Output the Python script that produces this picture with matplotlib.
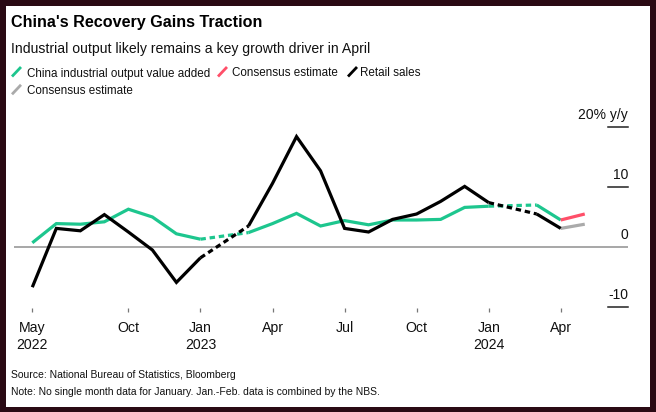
import matplotlib
matplotlib.use("Agg")
import matplotlib.pyplot as plt
from matplotlib.patches import Rectangle
from matplotlib.lines import Line2D
import matplotlib.transforms as mtransforms
import numpy as np

# ---------------- data ----------------
months = ["May 2022", "Jun 2022", "Jul 2022", "Aug 2022", "Sep 2022", "Oct 2022",
          "Nov 2022", "Dec 2022", "Jan 2023", "Feb 2023", "Mar 2023", "Apr 2023",
          "May 2023", "Jun 2023", "Jul 2023", "Aug 2023", "Sep 2023", "Oct 2023",
          "Nov 2023", "Dec 2023", "Jan 2024", "Feb 2024", "Mar 2024", "Apr 2024"]
industrial = [0.7, 3.9, 3.8, 4.2, 6.3, 5.0, 2.2, 1.3, None, 2.4, 3.9, 5.6,
              3.5, 4.4, 3.7, 4.5, 4.5, 4.6, 6.6, 6.8, None, 7.0, 4.5, None]
industrial_consensus = 5.5
retail = [-6.7, 3.1, 2.7, 5.4, 2.5, -0.5, -5.9, -1.8, None, 3.5, 10.6, 18.4,
          12.7, 3.1, 2.5, 4.6, 5.5, 7.6, 10.1, 7.4, None, 5.5, 3.1, None]
retail_consensus = 3.8

tick_positions = [0, 4, 7, 10, 13, 16, 19, 22]
tick_labels = ["May\n2022", "Oct", "Jan\n2023", "Apr", "Jul", "Oct", "Jan\n2024", "Apr"]
y_ticks = [-10, 0, 10, 20]
y_tick_labels = ["-10", "0", "10", "20% y/y"]

title = "China's Recovery Gains Traction"
subtitle = "Industrial output likely remains a key growth driver in April"
legend_labels = ["China industrial output value added", "Consensus estimate",
                 "Retail sales", "Consensus estimate"]
source = "Source: National Bureau of Statistics, Bloomberg"
note = "Note: No single month data for January. Jan.-Feb. data is combined by the NBS."

# ---------------- style ----------------
GREEN = "#1dc68e"
RED = "#ff4f69"
BLACK = "#000000"
GRAY = "#aaaaaa"
BORDER = "#2a0a14"

plt.rcParams["font.family"] = ["Liberation Sans", "DejaVu Sans"]

W, H = 656, 412
DPI = 100
fig = plt.figure(figsize=(W / DPI, H / DPI), dpi=DPI, facecolor=BORDER)

def fx(px):
    return px / W

def fy(py):
    return 1 - py / H

# white panel
fig.patches.append(Rectangle((fx(6), fy(407)), fx(650) - fx(6), fy(6) - fy(407),
                             transform=fig.transFigure, facecolor="white",
                             edgecolor="none", zorder=-10))

# axes geometry (pixels)
ax_left, ax_right = 14, 628
ax_top, ax_bottom = 115, 308
ax = fig.add_axes([fx(ax_left), fy(ax_bottom), fx(ax_right) - fx(ax_left),
                   fy(ax_top) - fy(ax_bottom)])
ax.set_facecolor("none")
ax.set_zorder(1)

px_per_idx = 24.02
x0_px = 32.3
ax.set_xlim((ax_left - x0_px) / px_per_idx, (ax_right - x0_px) / px_per_idx)
zero_px, px_per_unit = 247, 6.0
ax.set_ylim((zero_px - ax_bottom) / px_per_unit, (zero_px - ax_top) / px_per_unit)

for s in ax.spines.values():
    s.set_visible(False)

x = np.arange(len(months))
ind = np.array([np.nan if v is None else v for v in industrial], dtype=float)
ret = np.array([np.nan if v is None else v for v in retail], dtype=float)

LW = 2.3
DASH = (0, (1.7, 1.2))

def draw_series(vals, color, z):
    ax.plot(x, vals, color=color, lw=LW, solid_joinstyle="miter",
            solid_capstyle="butt", zorder=z)
    idx = np.where(np.isnan(vals[:-1]))[0]
    for i in idx:
        if 0 < i and not np.isnan(vals[i - 1]) and not np.isnan(vals[i + 1]):
            ax.plot([x[i - 1], x[i + 1]], [vals[i - 1], vals[i + 1]], color=color,
                    lw=LW, linestyle=DASH, dash_capstyle="butt", zorder=z)

ax.axhline(0, color="#8f8f8f", lw=1.1, zorder=1)

draw_series(ind, GREEN, 3)
draw_series(ret, BLACK, 4)

last = len(months) - 2
ax.plot([x[last], x[last + 1]], [ind[last], industrial_consensus], color=RED,
        lw=LW, solid_capstyle="butt", zorder=3)
ax.plot([x[last], x[last + 1]], [ret[last], retail_consensus], color=GRAY,
        lw=LW, solid_capstyle="butt", zorder=3)

# y ticks: short lines at right with labels above
tick_frac = (ax_right - 608) / (ax_right - ax_left)
trans = mtransforms.blended_transform_factory(ax.transAxes, ax.transData)
for v, lab in zip(y_ticks, y_tick_labels):
    if v != 0:
        ax.plot([1 - tick_frac, 1], [v, v], transform=trans, color="#222222",
                lw=1.1, clip_on=False, zorder=2)
    ax.annotate(lab, xy=(1, v), xycoords=trans, xytext=(0, 5.5),
                textcoords="offset points", ha="right", va="baseline",
                fontsize=10, color="#111111", annotation_clip=False)
ax.set_yticks([])

# x ticks
ax.set_xticks(tick_positions)
ax.set_xticklabels(tick_labels, fontsize=10.2, color="#111111", linespacing=1.3)
ax.tick_params(axis="x", direction="out", length=3.0, width=0.9, color="#777777",
               pad=6.5)

# ---------------- header texts ----------------
fig.text(fx(11), fy(27.5), title, fontsize=11.6, fontweight="bold",
         ha="left", va="baseline", color="#000000")
fig.text(fx(11), fy(53.3), subtitle, fontsize=10.1, ha="left", va="baseline",
         color="#111111")

legend_items = [
    (GREEN, 11, 76.5, 26.7, legend_labels[0]),
    (RED, 217, 76.5, 231.7, legend_labels[1]),
    (BLACK, 347, 76.5, 360.5, legend_labels[2]),
    (GRAY, 11, 94.3, 26.7, legend_labels[3]),
]
for color, ix, base, tx, lab in legend_items:
    fig.add_artist(Line2D([fx(ix + 1), fx(ix + 10)], [fy(base), fy(base - 9.5)],
                          transform=fig.transFigure, color=color, lw=2.0,
                          solid_capstyle="butt"))
    fig.text(fx(tx), fy(base), lab, fontsize=8.4, ha="left", va="baseline",
             color="#111111")

fig.text(fx(11), fy(377.7), source, fontsize=7.5, ha="left", va="baseline",
         color="#111111")
fig.text(fx(11), fy(395), note, fontsize=7.5, ha="left", va="baseline",
         color="#111111")

fig.savefig("out.png", dpi=DPI, facecolor=BORDER)
